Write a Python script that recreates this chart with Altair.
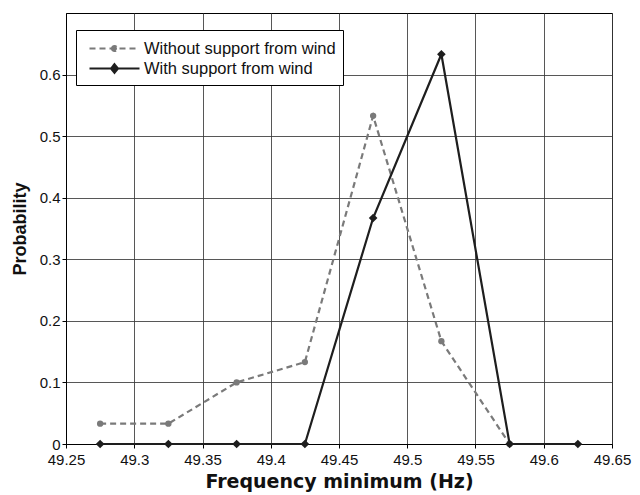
import altair as alt
import pandas as pd

freq = [49.275, 49.325, 49.375, 49.425, 49.475, 49.525, 49.575, 49.625]
without_wind = [0.033, 0.033, 0.100, 0.133, 0.533, 0.167, 0.0]
with_wind = [0.0, 0.0, 0.0, 0.0, 0.367, 0.633, 0.0, 0.0]
series_names = ["Without support from wind", "With support from wind"]
x_ticks = [49.25, 49.3, 49.35, 49.4, 49.45, 49.5, 49.55, 49.6, 49.65]
y_ticks = [0, 0.1, 0.2, 0.3, 0.4, 0.5, 0.6]

rows = []
for f, v in zip(freq, without_wind):
    rows.append({"freq": f, "prob": v, "series": series_names[0]})
for f, v in zip(freq, with_wind):
    rows.append({"freq": f, "prob": v, "series": series_names[1]})
df = pd.DataFrame(rows)

FONT = "Liberation Sans"
GRAY = "#7a7a7a"
BLACK = "#1e1e1e"

x = alt.X("freq:Q",
          scale=alt.Scale(domain=[49.25, 49.65], nice=False, zero=False),
          axis=alt.Axis(values=x_ticks, format=".4~g", title="Frequency minimum (Hz)",
                        grid=True, gridColor="#3a3a3a", gridWidth=1, gridOpacity=0.85,
                        domainColor="black", tickColor="black", tickSize=4,
                        labelFontSize=15, labelColor="#111", labelPadding=4, labelFlush=False,
                        titleFontSize=19, titleFontWeight="bold", titleColor="#111",
                        titlePadding=5, labelFont=FONT, titleFont="DejaVu Sans"))
y = alt.Y("prob:Q",
          scale=alt.Scale(domain=[0, 0.7], nice=False),
          axis=alt.Axis(values=y_ticks, format="~g", title="Probability",
                        grid=True, gridColor="#3a3a3a", gridWidth=1, gridOpacity=0.85,
                        domainColor="black", tickColor="black", tickSize=4,
                        labelFontSize=15, labelColor="#111", labelPadding=2, labelFlush=False,
                        titleFontSize=18, titleFontWeight="bold", titleColor="#111",
                        titlePadding=10, labelFont=FONT, titleFont=FONT))

color_scale = alt.Scale(domain=series_names, range=[GRAY, BLACK])
dash_scale = alt.Scale(domain=series_names, range=[[6, 4], [1, 0]])
legend_shapes = [
    "M-2.5,0H2.5M-0.25,0A0.25,0.25,0,1,1,0.25,0A0.25,0.25,0,1,1,-0.25,0Z",
    "M-2.5,0H2.5M0,-0.42L0.34,0L0,0.42L-0.34,0Z",
]
shape_scale = alt.Scale(domain=series_names, range=legend_shapes)

legend_cfg = dict(title=None, orient="none", legendX=10, legendY=17,
                  strokeColor="black", fillColor="white",
                  padding=7, symbolSize=400, symbolOffset=20, symbolOpacity=1,
                  symbolStrokeWidth=2.2, labelFontSize=16.5, labelLimit=400,
                  labelFont=FONT, labelColor="#111",
                  rowPadding=0, labelOffset=18)

def series_chart(name):
    return alt.Chart(df).transform_filter(alt.datum.series == name)

line_without = series_chart(series_names[0]).mark_line(
    strokeWidth=2.2, color=GRAY, strokeDash=[6, 4]).encode(x=x, y=y)
line_with = series_chart(series_names[1]).mark_line(
    strokeWidth=2.2, color=BLACK).encode(x=x, y=y)
pts_without = series_chart(series_names[0]).mark_point(
    filled=True, opacity=1, shape="circle", size=40, color=GRAY).encode(x=x, y=y)
pts_with = series_chart(series_names[1]).mark_point(
    filled=True, opacity=1, shape="diamond", size=75, color=BLACK).encode(x=x, y=y)

# invisible layer that only carries the legend (line + marker symbols)
legend_layer = alt.Chart(df).mark_point(filled=True, opacity=0, strokeWidth=2.2).encode(
    x=x, y=y,
    color=alt.Color("series:N", scale=color_scale, legend=alt.Legend(**legend_cfg)),
    stroke=alt.Stroke("series:N", scale=color_scale, legend=alt.Legend(**legend_cfg)),
    strokeDash=alt.StrokeDash("series:N", scale=dash_scale, legend=alt.Legend(**legend_cfg)),
    shape=alt.Shape("series:N", scale=shape_scale, legend=alt.Legend(**legend_cfg)),
)

chart = alt.layer(line_without, line_with, pts_without, pts_with, legend_layer).properties(
    width=546, height=431,
    autosize=alt.AutoSizeParams(type="none"),
    padding={"left": 58, "top": 5, "right": 20, "bottom": 52},
    background="white",
).configure_view(stroke="black", strokeWidth=1)

chart.save("out.html", embed_options={"renderer": "svg", "actions": False})
